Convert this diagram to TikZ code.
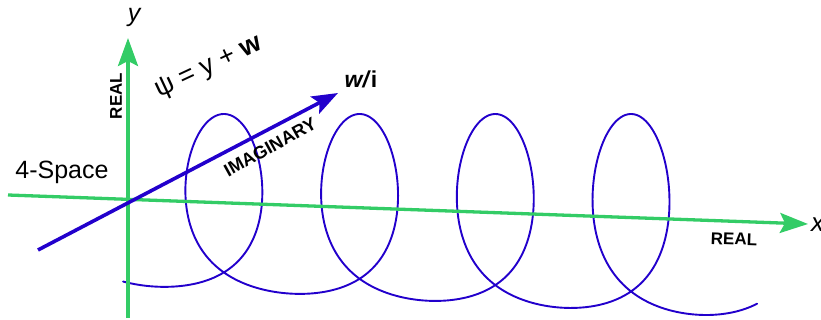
\documentclass[tikz,border=0pt]{standalone}
\usepackage{fontspec}
\setmainfont{Liberation Sans}
\usetikzlibrary{arrows.meta}
\definecolor{axisgreen}{RGB}{51,204,102}
\definecolor{wavblue}{RGB}{34,0,204}
\begin{document}
\begin{tikzpicture}[x=1pt,y=-1pt,
  axis/.style={draw=axisgreen, line width=3.3pt, -{Stealth[length=28pt,width=20pt,inset=5pt]}},
  imag/.style={draw=wavblue, line width=3.6pt, -{Stealth[length=26pt,width=19pt,inset=5pt]}},
  wave/.style={draw=wavblue, line width=1.9pt, line cap=round},
  lbl/.style={inner sep=0pt, text=black},
  caps/.style={lbl, font=\bfseries\fontsize{17}{17}\selectfont},
  declare function={cx(\t)=156+21.6*\t+69*sin(\t r);
                    cf(\t)=(1+cos(\t r))/2+0.107*(1-cos(\t r)*cos(\t r));
                    cy(\t)=114+(173+0.0519*(cx(\t)-163))*cf(\t);}]
\useasboundingbox (0,0) rectangle (821,320);
% axes
\coordinate (xs) at (8,195);
\coordinate (xe) at (808,224);
\coordinate (ys) at (128,318);
\coordinate (ye) at (128,38);
\coordinate (is) at (38,250);
\coordinate (ie) at (338,93);
% spiral
\draw[wave] plot[domain=-0.37:25.82, samples=700, variable=\t, smooth] ({cx(\t)},{cy(\t)});
\draw[axis] (xs) -- (xe);
\draw[axis] (ys) -- (ye);
\draw[imag] (is) -- (ie);
% labels
\node[lbl, font=\fontsize{25}{25}\selectfont] (space) at (62,172) {4-Space};
\node[lbl, font=\itshape\fontsize{25}{25}\selectfont] (ylab) at (134,17) {y};
\node[lbl, anchor=west, font=\itshape\fontsize{26}{26}\selectfont] (xlab) at (811,225) {x};
\node[caps, rotate=90] (realv) at (116,96) {REAL};
\node[caps, rotate=-2] (realh) at (734,239) {REAL};
\node[caps, rotate=29, font=\bfseries\fontsize{18}{18}\selectfont] (imlab) at (270,147) {IMAGINARY};
\node[lbl, rotate=25, font=\fontsize{27}{27}\selectfont] (psi) at (209,68) {ψ = y + \textbf{w}};
\node[lbl, font=\bfseries\fontsize{23}{23}\selectfont] (wi) at (361,79) {\textit{w/}i};
\end{tikzpicture}
\end{document}
